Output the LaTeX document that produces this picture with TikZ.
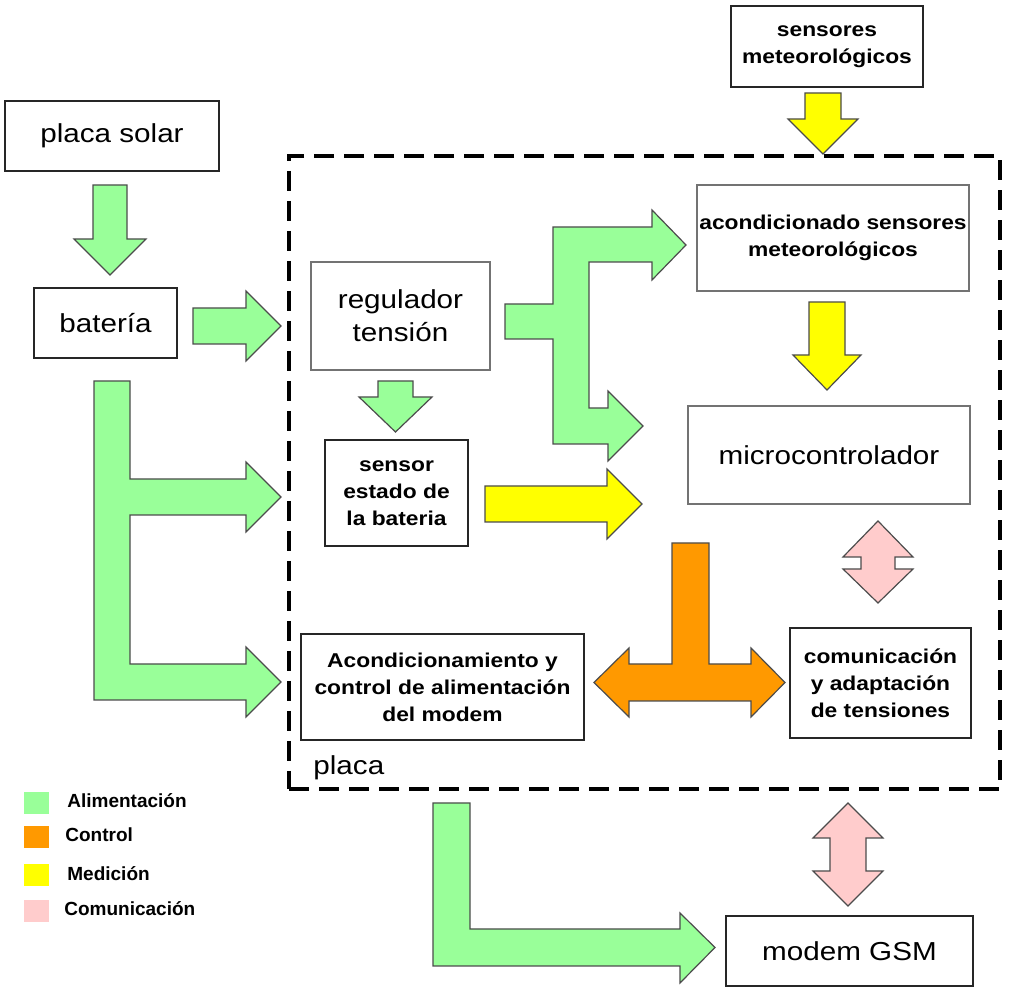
\documentclass[tikz,border=0pt]{standalone}
\usepackage{fontspec}
\setmainfont{Liberation Sans}[FakeStretch=1.14]
\newfontfamily\legendfont{Liberation Sans}
\definecolor{alim}{RGB}{153,255,153}
\definecolor{ctrl}{RGB}{255,153,0}
\definecolor{medi}{RGB}{255,255,0}
\definecolor{comu}{RGB}{255,204,204}
\begin{document}
\begin{tikzpicture}[x=0.5pt,y=-0.5pt,
  box/.style={draw=black!85, line width=0.9pt, fill=white, inner sep=0pt, align=center,
              font=\fontsize{13}{16.5}\selectfont},
  greybox/.style={box, draw=black!55},
  small/.style={font=\bfseries\fontsize{10}{13.5}\selectfont},
  blockarrow/.style={draw=black!70, line width=0.6pt, line join=miter},
  swatch/.style={inner sep=0pt, minimum width=12.5pt, minimum height=11pt},
  legendtext/.style={anchor=west, inner sep=0pt, font=\legendfont\bfseries\fontsize{9.5}{11}\selectfont}]

\useasboundingbox (0,0) rectangle (1009,988);

% board outline
\node[draw=black, line width=1.7pt, dash pattern=on 10pt off 5pt, minimum width=355.5pt,
      minimum height=316.5pt, inner sep=0pt] (placa) at (644.5,472.5) {};
\node[anchor=base west, inner sep=0pt, font=\fontsize{13}{16}\selectfont] (placalabel) at (313,775) {placa};

% boxes
\node[box, minimum width=107pt, minimum height=35pt] (solar) at (112,136) {placa solar};
\node[box, minimum width=71.5pt, minimum height=35pt] (bat) at (105.5,323) {batería};
\node[greybox, minimum width=89.5pt, minimum height=54pt] (reg) at (400.5,316) {regulador\\tensión};
\node[box, small, minimum width=71.5pt, minimum height=53pt] (sens) at (396.5,493) {sensor\\estado de\\la bateria};
\node[box, small, minimum width=141.5pt, minimum height=53pt] (acm) at (442.5,687) {Acondicionamiento y\\control de alimentación\\del modem};
\node[box, small, minimum width=96pt, minimum height=40.5pt] (meteo) at (827,46.5) {sensores\\meteorológicos};
\node[greybox, small, minimum width=136pt, minimum height=53pt] (acs) at (833,238) {acondicionado sensores\\meteorológicos};
\node[greybox, minimum width=141pt, minimum height=49pt] (mcu) at (829,455) {microcontrolador};
\node[box, small, minimum width=90.5pt, minimum height=55pt] (com) at (880.5,683) {comunicación\\y adaptación\\de tensiones};
\node[box, minimum width=123.5pt, minimum height=35pt] (gsm) at (849.5,951) {modem GSM};

% power (green)
\draw[blockarrow, fill=alim] (93,185) -- (127,185) -- (127,239) -- (146,239) -- (110,275)
  -- (74,239) -- (93,239) -- cycle;
\draw[blockarrow, fill=alim] (193,308) -- (246,308) -- (246,291) -- (281,326) -- (246,361)
  -- (246,344) -- (193,344) -- cycle;
\draw[blockarrow, fill=alim] (94,381) -- (130,381) -- (130,479) -- (246,479) -- (246,462)
  -- (281,497) -- (246,532) -- (246,515) -- (130,515) -- (130,664) -- (246,664) -- (246,647)
  -- (281,682) -- (246,717) -- (246,700) -- (94,700) -- cycle;
\draw[blockarrow, fill=alim] (378,381) -- (413,381) -- (413,397) -- (432,397) -- (395.5,432)
  -- (359,397) -- (378,397) -- cycle;
\draw[blockarrow, fill=alim] (505,304) -- (553,304) -- (553,227) -- (652,227) -- (652,210)
  -- (686,245) -- (652,280) -- (652,262) -- (589,262) -- (589,408) -- (608,408) -- (608,391)
  -- (643,426) -- (608,461) -- (608,444) -- (553,444) -- (553,339) -- (505,339) -- cycle;
\draw[blockarrow, fill=alim] (433,803) -- (470,803) -- (470,929) -- (680,929) -- (680,913)
  -- (715,947.5) -- (680,983) -- (680,966) -- (433,966) -- cycle;

% measurement (yellow)
\draw[blockarrow, fill=medi] (805,93) -- (841,93) -- (841,119) -- (858,119) -- (823,154)
  -- (788,119) -- (805,119) -- cycle;
\draw[blockarrow, fill=medi] (809,302) -- (845,302) -- (845,355) -- (861,355) -- (827,390)
  -- (793,355) -- (809,355) -- cycle;
\draw[blockarrow, fill=medi] (485,486) -- (607,486) -- (607,469) -- (642,504) -- (607,539)
  -- (607,522) -- (485,522) -- cycle;

% control (orange)
\draw[blockarrow, fill=ctrl] (672,543) -- (709,543) -- (709,664) -- (751,664) -- (751,648)
  -- (785,682.5) -- (751,717) -- (751,701) -- (629,701) -- (629,717) -- (594,682.5)
  -- (629,648) -- (629,664) -- (672,664) -- cycle;

% communication (pink)
\draw[blockarrow, fill=comu] (878,521) -- (913,557) -- (895,557) -- (895,569) -- (913,569)
  -- (878,603) -- (843,569) -- (861,569) -- (861,557) -- (843,557) -- cycle;
\draw[blockarrow, fill=comu] (848,803) -- (883,838) -- (866,838) -- (866,871) -- (883,871)
  -- (848,906) -- (813,871) -- (830,871) -- (830,838) -- (813,838) -- cycle;

% legend
\node[swatch, fill=alim] (lgA) at (36.5,803) {};
\node[swatch, fill=ctrl] (lgB) at (36.5,837.5) {};
\node[swatch, fill=medi] (lgC) at (36.5,875.5) {};
\node[swatch, fill=comu] (lgD) at (36.5,911) {};
\node[legendtext] (ltA) at (67,801) {Alimentación};
\node[legendtext] (ltB) at (65,835) {Control};
\node[legendtext] (ltC) at (67,874) {Medición};
\node[legendtext] (ltD) at (64,909) {Comunicación};
\end{tikzpicture}
\end{document}
